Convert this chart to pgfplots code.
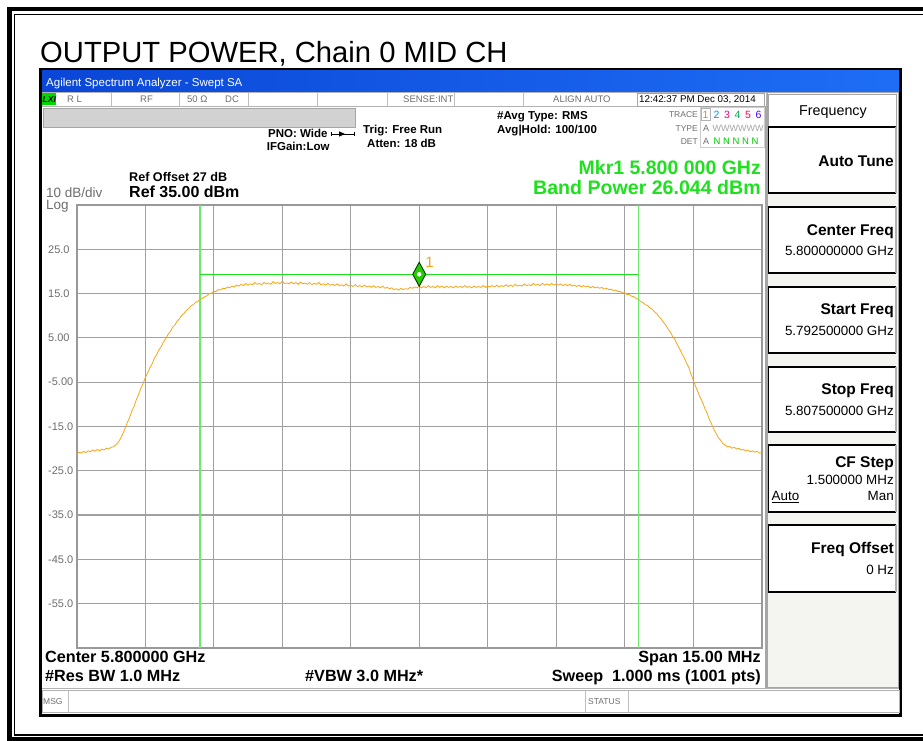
\documentclass[border=0pt]{standalone}
\usepackage{pgfplots}
\pgfplotsset{compat=1.18}
\usepackage{fontspec}
\setmainfont{Liberation Sans}
\newcommand\fs[1]{\fontsize{#1}{#1}\selectfont}
\definecolor{tr}{RGB}{250,165,20}
\definecolor{mk}{RGB}{30,225,30}
\definecolor{gl}{RGB}{110,232,110}
\definecolor{gridc}{RGB}{160,160,160}
\definecolor{barA}{RGB}{10,70,215}
\definecolor{barB}{RGB}{30,110,245}
\definecolor{stat}{RGB}{110,110,110}
\definecolor{pan}{RGB}{244,244,240}
\begin{document}
\begin{tikzpicture}
\useasboundingbox (0,0) rectangle (923pt,741pt);
\clip (0,0) rectangle (923pt,741pt);
\fill[white] (0,0) rectangle (923pt,741pt);
\begin{scope}[x=1pt,y=-1pt,shift={(0pt,741pt)}]
% outer frames
\draw[line width=4.6pt] (940,9.2) -- (9.2,9.2) -- (9.2,739.2) -- (940,739.2);
\draw[line width=1.3pt] (940,14.6) -- (14.6,14.6) -- (14.6,735) -- (940,735);
% title
\node[anchor=base west,inner sep=0pt] at (40,63) {\fs{29.2}OUTPUT POWER, Chain 0 MID CH};
% screen
\draw[line width=3pt,fill=white] (40.5,69.5) rectangle (900.5,715.5);
\shade[left color=barA,right color=barB] (42,71) rectangle (899,92);
\node[anchor=base west,inner sep=0pt,text=white] at (46,86.5) {\fs{11.5}Agilent Spectrum Analyzer - Swept SA};
% status row
\draw[gray!60,line width=0.8pt] (42,92.5) rectangle (766,106);
\fill[green!85!black] (41.5,93) rectangle (56,105.5);
\node[anchor=base west,inner sep=0pt] at (42.5,102.5) {\fs{8.5}\bfseries\itshape LXI};
\foreach \xx in {111.7,179,248,317,387,454,523}{\draw[gray!50,line width=0.8pt] (\xx,93)--(\xx,106);}
\node[anchor=base west,inner sep=0pt,text=stat] at (67,103) {\fs{9.5}R L};
\node[anchor=base west,inner sep=0pt,text=stat] at (140,103) {\fs{9.5}RF};
\node[anchor=base west,inner sep=0pt,text=stat] at (187,103) {\fs{9.5}50 Ω};
\node[anchor=base west,inner sep=0pt,text=stat] at (225,103) {\fs{9.5}DC};
\node[anchor=base west,inner sep=0pt,text=stat] at (403,103) {\fs{9.5}SENSE:INT};
\node[anchor=base west,inner sep=0pt,text=stat] at (553,103) {\fs{9.5}ALIGN AUTO};
\draw[gray!70,line width=0.8pt] (637,93) rectangle (764,106);
\node[anchor=base west,inner sep=0pt] at (639,103) {\fs{9.8}12:42:37 PM Dec 03, 2014};
% gray bar
\fill[gray!35] (43,108) rectangle (355,127);
\draw[gray!70,line width=0.8pt] (43,108) rectangle (355,127);
% header settings
\node[anchor=base west,inner sep=0pt] at (268,138) {\fs{11.5}\bfseries PNO: Wide};
\draw[line width=0.8pt] (331,134)--(354,134);
\fill (339,131.3)--(345,134)--(339,136.7)--cycle;
\draw[line width=0.8pt] (331,132)--(331,136) (354,132)--(354,136);
\node[anchor=base west,inner sep=0pt] at (266.7,151) {\fs{11.5}\bfseries IFGain:Low};
\node[anchor=base west,inner sep=0pt] at (363,133.5) {\fs{11.5}\bfseries Trig: Free Run};
\node[anchor=base west,inner sep=0pt] at (367,147.5) {\fs{11.5}\bfseries Atten: 18 dB};
\node[anchor=base west,inner sep=0pt] at (497,120) {\fs{11.5}\bfseries \#Avg Type: RMS};
\node[anchor=base west,inner sep=0pt] at (497,133.5) {\fs{11.5}\bfseries Avg|Hold: 100/100};
% trace block
\node[anchor=base east,inner sep=0pt,text=stat] at (698,118) {\fs{8.5}TRACE};
\node[anchor=base east,inner sep=0pt,text=stat] at (698,131.5) {\fs{8.5}TYPE};
\node[anchor=base east,inner sep=0pt,text=stat] at (698,144.5) {\fs{8.5}DET};
\draw[gray!40,line width=0.7pt] (700.5,107) rectangle (764,147);
\draw[gray!60,line width=0.6pt] (701.5,108.5) rectangle (710,120);
\node[anchor=base west,inner sep=0pt,text=orange] at (702.5,118.5) {\fs{10.5}1};
\node[anchor=base west,inner sep=0pt,text=cyan!80!blue] at (713.5,118.5) {\fs{10.5}2};
\node[anchor=base west,inner sep=0pt,text=magenta] at (724,118.5) {\fs{10.5}3};
\node[anchor=base west,inner sep=0pt,text=teal!60!green] at (734.5,118.5) {\fs{10.5}4};
\node[anchor=base west,inner sep=0pt,text=red!70!magenta] at (745,118.5) {\fs{10.5}5};
\node[anchor=base west,inner sep=0pt,text=blue!70!magenta] at (755.5,118.5) {\fs{10.5}6};
\node[anchor=base west,inner sep=0pt,text=stat] at (703,131.5) {\fs{9}A};
\node[anchor=base west,inner sep=0pt,text=gray!70] at (712.5,131.5) {\fs{9}WWWWWW};
\node[anchor=base west,inner sep=0pt,text=stat] at (703,144.5) {\fs{9}A};
\node[anchor=base west,inner sep=0pt,text=green!80!black] at (713.5,144.5) {\fs{9.5}N N N N N};
% ref texts
\node[anchor=base west,inner sep=0pt] at (129,181.7) {\fs{12.6}\bfseries Ref Offset 27 dB};
\node[anchor=base west,inner sep=0pt] at (129,198) {\fs{16}\bfseries Ref 35.00 dBm};
\node[anchor=base west,inner sep=0pt,text=stat] at (46,197.5) {\fs{13.5}10 dB/div};
\node[anchor=base west,inner sep=0pt,text=stat] at (46,210) {\fs{13.5}Log};
\node[anchor=base east,inner sep=0pt,text=mk] at (761,175) {\fs{19.5}\bfseries Mkr1 5.800 000 GHz};
\node[anchor=base east,inner sep=0pt,text=mk] at (761,194.5) {\fs{19.6}\bfseries Band Power 26.044 dBm};
% display border
\draw[gray!70,line width=1.2pt] (766,106) -- (766,689);
\draw[gray!60,line width=1pt] (42,689) -- (899,689);
% bottom texts
\node[anchor=base west,inner sep=0pt] at (45,663) {\fs{16.2}\bfseries Center 5.800000 GHz};
\node[anchor=base west,inner sep=0pt] at (45,682) {\fs{16.2}\bfseries \#Res BW 1.0 MHz};
\node[anchor=base west,inner sep=0pt] at (305,682) {\fs{16.2}\bfseries \#VBW 3.0 MHz*};
\node[anchor=base east,inner sep=0pt] at (761,663) {\fs{16.2}\bfseries Span 15.00 MHz};
\node[anchor=base east,inner sep=0pt] at (761,682) {\fs{16.2}\bfseries Sweep\ \ 1.000 ms (1001 pts)};
% msg strip
\draw[gray!60,line width=0.8pt] (42,690.5) rectangle (899,712.5);
\draw[gray!50,line width=0.8pt] (68,691)--(68,712) (585,691)--(585,712) (628,691)--(628,712);
\node[anchor=base west,inner sep=0pt,text=stat] at (43,705) {\fs{8.5}MSG};
\node[anchor=base west,inner sep=0pt,text=stat] at (588,705) {\fs{8.5}STATUS};
% right panel
\fill[pan] (767,93) rectangle (898,688);
\draw[gray!70,line width=1pt] (767,93) rectangle (898,688);
\draw[gray!70,line width=1pt,fill=white] (768.5,95) rectangle (896.5,127);
\node[anchor=base,inner sep=0pt] at (833,115.5) {\fs{14.3}Frequency};
\foreach \ya/\yb in {127/193,207/273,287/353,367/432,445/512,525/592}{
  \fill[white] (768.5,\ya) rectangle (896,\yb);
  \draw[line width=1.5pt] (896,\yb) -- (768.5,\yb) -- (768.5,\ya) -- (896,\ya);
  \draw[gray!60,line width=1.2pt] (896,\ya) -- (896,\yb);
}
\node[anchor=base east,inner sep=0pt] at (894,166.5) {\fs{15.5}\bfseries Auto Tune};
\node[anchor=base east,inner sep=0pt] at (894,235.5) {\fs{15.5}\bfseries Center Freq};
\node[anchor=base east,inner sep=0pt] at (894,256) {\fs{13.4}5.800000000 GHz};
\node[anchor=base east,inner sep=0pt] at (894,315) {\fs{15.5}\bfseries Start Freq};
\node[anchor=base east,inner sep=0pt] at (894,336) {\fs{13.4}5.792500000 GHz};
\node[anchor=base east,inner sep=0pt] at (894,395) {\fs{15.5}\bfseries Stop Freq};
\node[anchor=base east,inner sep=0pt] at (894,415.5) {\fs{13.4}5.807500000 GHz};
\node[anchor=base east,inner sep=0pt] at (894,468) {\fs{15.5}\bfseries CF Step};
\node[anchor=base east,inner sep=0pt] at (894,484.5) {\fs{13.4}1.500000 MHz};
\node[anchor=base west,inner sep=0pt] at (771.5,501) {\fs{13.4}\underline{Auto}};
\node[anchor=base east,inner sep=0pt] at (894,501) {\fs{13.4}Man};
\node[anchor=base east,inner sep=0pt] at (894,553.5) {\fs{15.5}\bfseries Freq Offset};
\node[anchor=base east,inner sep=0pt] at (894,574.5) {\fs{13.4}0 Hz};
\end{scope}
\begin{axis}[
  at={(76.7pt,536pt)}, anchor=north west,
  width=685pt, height=443pt, scale only axis,
  xmin=-7.5, xmax=7.5, ymin=-65, ymax=35,
  xtick={-6,-4.5,...,6}, xticklabels={},
  ytick={-55,-45,...,25},
  yticklabels={-55.0,-45.0,-35.0,-25.0,-15.0,-5.00,5.00,15.0,25.0},
  yticklabel style={anchor=west, inner sep=0pt, xshift=-28.7pt, text=stat, font=\fs{11}},
  grid=major, major grid style={gridc, line width=1.2pt},
  axis line style={gray!80, line width=1.6pt},
  major tick length=0pt, tick style={draw=none},
  clip=true,
]
\addplot[gl, line width=1.2pt] coordinates {(-4.8,-65) (-4.8,35)};
\addplot[gl, line width=1.2pt] coordinates {(4.8,-65) (4.8,35)};
\addplot[mk, line width=1.1pt] coordinates {(-4.8,19.36) (4.8,19.36)};
\addplot[tr, line width=0.8pt] table {
-7.50 -21.2
-7.45 -20.8
-7.40 -21.0
-7.35 -20.6
-7.30 -20.9
-7.25 -20.5
-7.20 -20.7
-7.15 -20.3
-7.10 -20.6
-7.05 -20.2
-7.00 -20.5
-6.95 -20.1
-6.90 -20.3
-6.85 -19.9
-6.80 -20.1
-6.75 -19.7
-6.70 -19.6
-6.65 -19.2
-6.60 -18.7
-6.55 -17.9
-6.50 -16.9
-6.45 -15.7
-6.40 -14.3
-6.35 -13.2
-6.30 -11.7
-6.25 -10.6
-6.20 -9.1
-6.15 -7.9
-6.10 -6.5
-6.05 -5.4
-6.00 -4.0
-5.95 -3.0
-5.90 -1.8
-5.85 -0.9
-5.80 0.4
-5.75 1.2
-5.70 2.3
-5.65 3.0
-5.60 4.1
-5.55 4.8
-5.50 5.8
-5.45 6.4
-5.40 7.4
-5.35 7.9
-5.30 8.8
-5.25 9.3
-5.20 10.1
-5.15 10.5
-5.10 11.2
-5.05 11.6
-5.00 12.2
-4.95 12.5
-4.90 13.0
-4.85 13.2
-4.80 13.7
-4.75 13.9
-4.70 14.3
-4.65 14.5
-4.60 15.0
-4.55 15.1
-4.50 15.5
-4.45 15.5
-4.40 15.9
-4.35 15.8
-4.30 16.2
-4.25 16.1
-4.20 16.5
-4.15 16.3
-4.10 16.7
-4.05 16.5
-4.00 16.9
-3.95 16.7
-3.90 17.1
-3.85 16.8
-3.80 17.3
-3.75 16.9
-3.70 17.2
-3.65 17.0
-3.60 17.5
-3.55 17.1
-3.50 17.3
-3.45 17.0
-3.40 17.5
-3.35 17.2
-3.30 17.4
-3.25 17.1
-3.20 17.7
-3.15 17.3
-3.10 17.5
-3.05 17.2
-3.00 17.8
-2.95 17.3
-2.90 17.4
-2.85 17.2
-2.80 17.6
-2.75 17.2
-2.70 17.5
-2.65 17.1
-2.60 17.6
-2.55 17.2
-2.50 17.4
-2.45 17.1
-2.40 17.5
-2.35 17.0
-2.30 17.3
-2.25 17.1
-2.20 17.5
-2.15 17.0
-2.10 17.2
-2.05 16.9
-2.00 17.3
-1.95 16.9
-1.90 17.1
-1.85 16.8
-1.80 17.2
-1.75 16.8
-1.70 17.0
-1.65 16.7
-1.60 17.2
-1.55 16.7
-1.50 16.9
-1.45 16.6
-1.40 17.0
-1.35 16.6
-1.30 16.8
-1.25 16.5
-1.20 16.9
-1.15 16.5
-1.10 16.7
-1.05 16.4
-1.00 16.8
-0.95 16.4
-0.90 16.6
-0.85 16.3
-0.80 16.7
-0.75 16.2
-0.70 16.4
-0.65 16.1
-0.60 16.3
-0.55 15.9
-0.50 16.1
-0.45 15.8
-0.40 16.2
-0.35 15.9
-0.30 16.1
-0.25 16.0
-0.20 16.4
-0.15 16.2
-0.10 16.5
-0.05 16.3
0.00 16.7
0.05 16.3
0.10 16.6
0.15 16.3
0.20 16.8
0.25 16.4
0.30 16.6
0.35 16.3
0.40 16.8
0.45 16.4
0.50 16.7
0.55 16.3
0.60 16.7
0.65 16.4
0.70 16.6
0.75 16.3
0.80 16.7
0.85 16.4
0.90 16.6
0.95 16.4
1.00 16.8
1.05 16.4
1.10 16.6
1.15 16.3
1.20 16.7
1.25 16.4
1.30 16.6
1.35 16.4
1.40 16.8
1.45 16.4
1.50 16.7
1.55 16.5
1.60 16.8
1.65 16.5
1.70 16.9
1.75 16.5
1.80 16.8
1.85 16.6
1.90 17.0
1.95 16.6
2.00 16.9
2.05 16.6
2.10 17.1
2.15 16.7
2.20 16.9
2.25 16.7
2.30 17.2
2.35 16.8
2.40 17.0
2.45 16.8
2.50 17.3
2.55 16.9
2.60 17.1
2.65 16.8
2.70 17.3
2.75 16.9
2.80 17.2
2.85 16.9
2.90 17.3
2.95 16.9
3.00 17.2
3.05 16.9
3.10 17.2
3.15 16.8
3.20 17.1
3.25 16.8
3.30 17.1
3.35 16.7
3.40 16.9
3.45 16.6
3.50 16.9
3.55 16.5
3.60 16.8
3.65 16.5
3.70 16.7
3.75 16.3
3.80 16.6
3.85 16.3
3.90 16.5
3.95 16.2
4.00 16.4
4.05 16.0
4.10 16.2
4.15 15.9
4.20 16.0
4.25 15.7
4.30 15.8
4.35 15.5
4.40 15.5
4.45 15.2
4.50 15.2
4.55 14.8
4.60 14.8
4.65 14.4
4.70 14.3
4.75 13.9
4.80 13.7
4.85 13.2
4.90 13.0
4.95 12.5
5.00 12.3
5.05 11.8
5.10 11.5
5.15 10.9
5.20 10.5
5.25 9.8
5.30 9.3
5.35 8.5
5.40 7.9
5.45 7.0
5.50 6.3
5.55 5.3
5.60 4.6
5.65 3.5
5.70 2.6
5.75 1.5
5.80 0.6
5.85 -0.6
5.90 -1.6
5.95 -3.1
6.00 -4.5
6.05 -5.9
6.10 -7.1
6.15 -8.4
6.20 -9.4
6.25 -10.8
6.30 -11.9
6.35 -13.3
6.40 -14.4
6.45 -15.6
6.50 -16.5
6.55 -17.5
6.60 -18.1
6.65 -18.9
6.70 -19.2
6.75 -19.6
6.80 -19.5
6.85 -19.9
6.90 -19.7
6.95 -20.1
7.00 -19.9
7.05 -20.3
7.10 -20.2
7.15 -20.5
7.20 -20.3
7.25 -20.7
7.30 -20.5
7.35 -20.8
7.40 -20.6
7.45 -21.0
7.50 -20.9
};
\addplot[only marks, mark=diamond*, mark size=12pt, mark options={xscale=0.72, fill=green!75!black!80!lime, draw=black!75!green, line width=0.9pt}] coordinates {(0,19.36)};
\addplot[only marks, mark=*, mark size=2pt, mark options={fill=white, draw=white}] coordinates {(0,19.36)};
\node[anchor=west, inner sep=0pt, text=tr, font=\fs{15}] at (axis cs:0.13,22.0) {1};
\end{axis}
\end{tikzpicture}
\end{document}
